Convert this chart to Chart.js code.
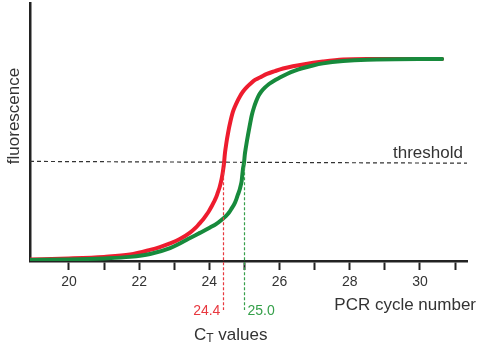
<!DOCTYPE html>
<html>
<head>
<meta charset="utf-8">
<script src="https://cdn.jsdelivr.net/npm/chart.js@4/dist/chart.umd.min.js"></script>
<style>
html,body{margin:0;padding:0;background:#fff;}
#wrap{width:478px;height:353px;position:relative;}
</style>
</head>
<body>
<div id="wrap"><canvas id="c" width="478" height="353"></canvas></div>
<script>
// ---- data ----
const redCycles = [18.89, 20.00, 21.00, 21.74, 22.31, 22.59, 22.88, 23.16, 23.45, 23.62, 23.73, 23.82, 23.90, 23.99, 24.07, 24.13, 24.19, 24.245, 24.29, 24.33, 24.36, 24.39, 24.42, 24.44, 24.47, 24.50, 24.53, 24.56, 24.59, 24.63, 24.67, 24.73, 24.80, 24.87, 24.96, 25.06, 25.16, 25.30, 25.44, 25.64, 25.87, 26.10, 26.38, 26.67, 27.24, 27.81, 28.49, 30.63];
const redFluor  = [0.6, 1.0, 1.6, 2.5, 4.3, 5.4, 6.8, 8.5, 11.0, 13.0, 14.7, 16.1, 17.6, 19.4, 21.3, 22.9, 24.6, 26.7, 28.5, 30.6, 32.6, 35.1, 38.2, 41.3, 44.4, 47.1, 49.4, 51.6, 53.5, 55.8, 57.8, 59.9, 62.0, 63.8, 65.7, 67.3, 68.6, 70.2, 71.1, 72.5, 73.6, 74.6, 75.5, 76.2, 77.3, 78.1, 78.3, 78.3];
const greenCycles = [18.89, 20.00, 21.00, 21.74, 22.31, 22.88, 23.16, 23.45, 23.73, 24.02, 24.19, 24.36, 24.47, 24.56, 24.64, 24.72, 24.77, 24.81, 24.86, 24.89, 24.92, 24.94, 24.96, 24.99, 25.01, 25.04, 25.07, 25.10, 25.13, 25.17, 25.21, 25.27, 25.33, 25.40, 25.48, 25.58, 25.70, 25.81, 26.01, 26.21, 26.44, 26.67, 26.95, 27.24, 27.81, 28.49, 30.63];
const greenFluor  = [0.4, 0.6, 1.0, 1.6, 2.7, 5.0, 6.8, 8.9, 10.9, 13.0, 14.3, 16.1, 17.4, 18.8, 20.5, 22.3, 24.0, 25.6, 27.5, 29.1, 31.0, 33.5, 35.9, 38.4, 41.3, 44.0, 46.5, 48.8, 51.0, 53.9, 56.6, 59.5, 61.8, 64.0, 65.7, 67.2, 68.6, 69.6, 71.1, 72.5, 73.8, 74.8, 75.8, 76.6, 77.5, 78.0, 78.3];
const thresholdCycles = [18.89, 31.34];
const thresholdFluor  = [38.6, 37.9];
const ctValues  = [24.4, 25.0];
const ctLabels  = ['24.4', '25.0'];
const xTickValues = [20, 21, 22, 23, 24, 25, 26, 27, 28, 29, 30, 31];
const xTickLabels = ['20', '', '22', '', '24', '', '26', '', '28', '', '30', ''];
const xMin = 18.89, xMax = 31.34, yMin = 0, yMax = 100;

const RED = '#ee1c2e';
const GREEN = '#178a3c';
const RED_TXT = '#e8383f';
const GREEN_TXT = '#35a04a';
const FONT = '"Liberation Sans", Arial, sans-serif';

function pts(xs, ys){ return xs.map((x,i)=>({x:x, y:ys[i]})); }
function thresholdAt(c){
  const t = (c - thresholdCycles[0])/(thresholdCycles[1]-thresholdCycles[0]);
  return thresholdFluor[0] + t*(thresholdFluor[1]-thresholdFluor[0]);
}

const annot = {
  id: 'annot',
  afterDatasetsDraw(chart){
    const ctx = chart.ctx, xs = chart.scales.x, ys = chart.scales.y, ca = chart.chartArea;
    ctx.save();
    const cols = [RED_TXT, GREEN_TXT];
    ctValues.forEach((ct,i)=>{
      const px = Math.round(xs.getPixelForValue(ct)) + 0.5;
      const top = ys.getPixelForValue(thresholdAt(ct));
      ctx.beginPath();
      ctx.setLineDash([3,2]);
      ctx.strokeStyle = cols[i];
      ctx.lineWidth = 1.2;
      ctx.moveTo(px, top);
      ctx.lineTo(px, ca.bottom + 49);
      ctx.stroke();
    });
    ctx.setLineDash([]);
    ctx.font = '14px ' + FONT;
    ctx.textBaseline = 'middle';
    ctValues.forEach((ct,i)=>{
      const px = xs.getPixelForValue(ct);
      ctx.fillStyle = cols[i];
      if(i===0){ ctx.textAlign='right'; ctx.fillText(ctLabels[i], px-3, ca.bottom+50); }
      else { ctx.textAlign='left'; ctx.fillText(ctLabels[i], px+3, ca.bottom+50); }
    });
    ctx.fillStyle = '#333';
    ctx.font = '17px ' + FONT;
    ctx.textAlign = 'left';
    ctx.textBaseline = 'alphabetic';
    ctx.fillText('threshold', 393, 158);
    ctx.textAlign = 'right';
    ctx.textBaseline = 'middle';
    ctx.fillText('PCR cycle number', 476, 305);
    ctx.textAlign = 'left';
    ctx.fillText('C', 194, 335);
    const cw = ctx.measureText('C').width;
    ctx.font = '12px ' + FONT;
    ctx.fillText('T', 194 + cw, 339);
    const tw = ctx.measureText('T').width;
    ctx.font = '17px ' + FONT;
    ctx.fillText(' values', 194 + cw + tw, 335);
    ctx.translate(14, 116);
    ctx.rotate(-Math.PI/2);
    ctx.textAlign = 'center';
    ctx.fillText('fluorescence', 0, 0);
    ctx.restore();
  }
};

new Chart(document.getElementById('c'), {
  type: 'line',
  data: {
    datasets: [
      { label: 'green', data: pts(greenCycles, greenFluor), borderColor: GREEN, borderWidth: 4,
        pointRadius: 0, cubicInterpolationMode: 'monotone', borderCapStyle: 'round', borderJoinStyle: 'round', order: 0, fill: false },
      { label: 'red', data: pts(redCycles, redFluor), borderColor: RED, borderWidth: 4,
        pointRadius: 0, cubicInterpolationMode: 'monotone', borderCapStyle: 'round', borderJoinStyle: 'round', order: 1, fill: false },
      { label: 'threshold', data: pts(thresholdCycles, thresholdFluor), borderColor: '#333', borderWidth: 1.2,
        borderDash: [4,3], pointRadius: 0, order: 2, fill: false }
    ]
  },
  options: {
    responsive: false,
    animation: false,
    devicePixelRatio: 1,
    layout: { padding: { top: 3, right: 11, left: 0, bottom: 0 } },
    plugins: { legend: { display: false }, tooltip: { enabled: false } },
    scales: {
      x: {
        type: 'linear', min: xMin, max: xMax,
        afterFit(s){ s.height = 92; },
        afterBuildTicks(s){ s.ticks = xTickValues.map(v=>({value:v})); },
        ticks: {
          autoSkip: false, maxRotation: 0, padding: 4,
          color: '#333', font: { family: FONT, size: 14 },
          callback(v){ const i = xTickValues.indexOf(v); return i>=0 ? xTickLabels[i] : ''; }
        },
        grid: { display: true, drawOnChartArea: false, drawTicks: true, tickLength: 9, tickWidth: 2, tickColor: '#222' },
        border: { display: true, color: '#222', width: 2.5 }
      },
      y: {
        type: 'linear', min: yMin, max: yMax,
        afterFit(s){ s.width = 30; },
        ticks: { display: false },
        grid: { display: false, drawTicks: false },
        border: { display: true, color: '#222', width: 2.5 }
      }
    }
  },
  plugins: [annot]
});
</script>
</body>
</html>
